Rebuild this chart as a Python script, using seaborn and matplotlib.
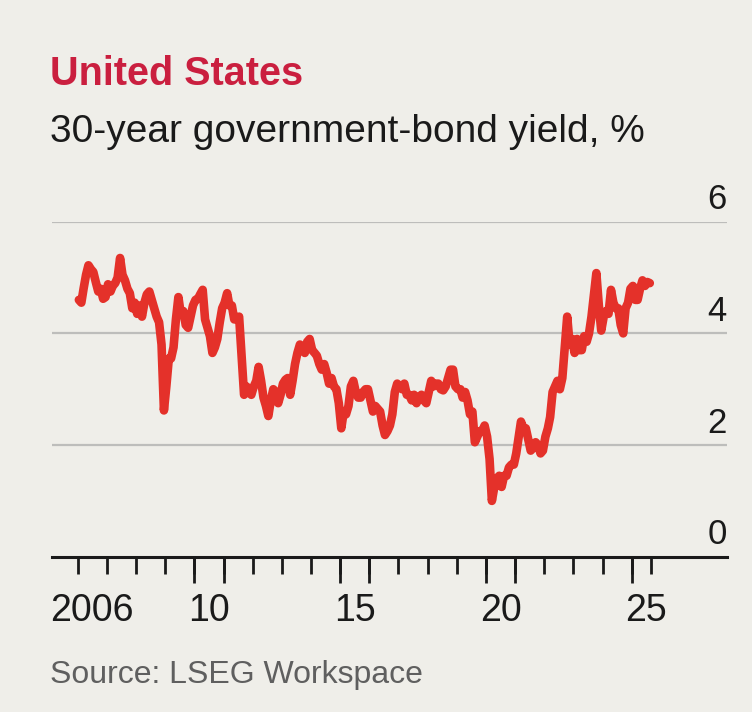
import pandas as pd
import numpy as np
import matplotlib
matplotlib.use('Agg')
import matplotlib.pyplot as plt
import seaborn as sns

# monthly 30-year US Treasury yield, %, Jan 2006 - Aug 2025
yields = [
    4.60, 4.55, 4.80, 5.05, 5.22, 5.15, 5.10, 4.92, 4.75, 4.80, 4.62, 4.65,  # 2006
    4.88, 4.75, 4.85, 4.90, 5.00, 5.35, 5.05, 4.95, 4.80, 4.72, 4.45, 4.55,  # 2007
    4.35, 4.50, 4.30, 4.55, 4.70, 4.75, 4.60, 4.45, 4.30, 4.20, 3.80, 2.62,  # 2008
    3.05, 3.55, 3.55, 3.75, 4.25, 4.65, 4.35, 4.40, 4.15, 4.10, 4.30, 4.50,  # 2009
    4.60, 4.62, 4.70, 4.78, 4.25, 4.10, 3.95, 3.65, 3.75, 3.90, 4.20, 4.45,  # 2010
    4.55, 4.72, 4.50, 4.50, 4.25, 4.25, 4.30, 3.60, 2.90, 3.05, 2.95, 2.90,  # 2011
    3.05, 3.15, 3.40, 3.15, 2.85, 2.70, 2.52, 2.80, 3.00, 2.95, 2.75, 2.90,  # 2012
    3.10, 3.17, 3.20, 2.90, 3.15, 3.45, 3.65, 3.80, 3.75, 3.65, 3.85, 3.90,  # 2013
    3.70, 3.65, 3.60, 3.45, 3.35, 3.45, 3.30, 3.10, 3.20, 3.05, 3.00, 2.75,  # 2014
    2.30, 2.60, 2.55, 2.70, 3.05, 3.15, 2.95, 2.85, 2.85, 2.95, 3.00, 3.00,  # 2015
    2.80, 2.60, 2.70, 2.65, 2.60, 2.35, 2.18, 2.25, 2.35, 2.55, 2.95, 3.10,  # 2016
    3.05, 3.00, 3.10, 2.90, 2.90, 2.80, 2.90, 2.75, 2.85, 2.90, 2.80, 2.75,  # 2017
    2.95, 3.15, 3.05, 3.10, 3.10, 3.00, 2.98, 3.05, 3.20, 3.35, 3.35, 3.05,  # 2018
    3.00, 3.00, 2.85, 2.95, 2.80, 2.55, 2.60, 2.05, 2.15, 2.25, 2.25, 2.35,  # 2019
    2.15, 1.75, 1.00, 1.25, 1.40, 1.45, 1.25, 1.45, 1.45, 1.60, 1.65, 1.65,  # 2020
    1.85, 2.15, 2.42, 2.30, 2.30, 2.10, 1.90, 1.95, 2.05, 2.00, 1.85, 1.90,  # 2021
    2.15, 2.30, 2.50, 2.95, 3.05, 3.15, 3.00, 3.20, 3.75, 4.30, 3.80, 3.90,  # 2022
    3.65, 3.90, 3.70, 3.70, 3.95, 3.85, 4.00, 4.30, 4.70, 5.08, 4.50, 4.05,  # 2023
    4.30, 4.40, 4.35, 4.78, 4.55, 4.45, 4.45, 4.15, 4.00, 4.45, 4.55, 4.80,  # 2024
    4.85, 4.60, 4.60, 4.80, 4.95, 4.85, 4.92, 4.90,                          # 2025
]
months = pd.date_range('2006-01-01', periods=len(yields), freq='MS') + pd.Timedelta(days=14)

tick_years = list(range(2006, 2026))
long_tick_years = [2010, 2011, 2015, 2016, 2020, 2021, 2025]
label_years = [2006, 2010, 2015, 2020, 2025]
label_text = ['2006', '10', '15', '20', '25']
y_ticks = [0, 2, 4, 6]

bg = '#EFEEE9'
red = '#E4312A'
ink = '#1a1a1a'

df = pd.DataFrame({'date': months, 'yield': yields})
df['x'] = df['date'].dt.year + (df['date'].dt.dayofyear - 0.5) / 365.25

sns.set_theme(style='white')
plt.rcParams['font.family'] = ['Liberation Sans', 'DejaVu Sans']

fig = plt.figure(figsize=(7.52, 7.12), dpi=100, facecolor=bg)
ax = fig.add_axes([0.06875, 0.2181, 0.8976, 0.4705])
ax.set_facecolor(bg)

for v in y_ticks[1:]:
    ax.axhline(v, color='#BDBDBB', lw=1.6, zorder=1)

sns.lineplot(data=df, x='x', y='yield', ax=ax, color=red, lw=6.2,
             solid_capstyle='round', solid_joinstyle='round', zorder=3)

ax.set_xlim(2005.108, 2028.257)
ax.set_ylim(0, 6)
for s in ['top', 'left', 'right']:
    ax.spines[s].set_visible(False)
ax.spines['bottom'].set_color(ink)
ax.spines['bottom'].set_linewidth(2.2)

# year labels sit in the middle of each year
ax.set_xticks([y + 0.5 for y in label_years])
ax.set_xticklabels(label_text)
ax.tick_params(axis='x', which='major', bottom=True, length=0, pad=26,
               labelsize=27, labelcolor=ink)
ax.set_xticks(tick_years + [df['x'].iloc[-1] + 0.04], minor=True)
ax.tick_params(axis='x', which='minor', bottom=True, length=12, width=2,
               color=ink, direction='out')

sec = ax.secondary_xaxis('bottom')
sec.set_xticks(long_tick_years)
sec.tick_params(bottom=True, length=19, width=2, color=ink, labelbottom=False)
sec.spines['bottom'].set_visible(False)

ax.set_yticks([])
ax.set_xlabel('')
ax.set_ylabel('')
for v in y_ticks:
    ax.annotate(str(v), xy=(1, v), xycoords=('axes fraction', 'data'),
                xytext=(0, 9), textcoords='offset points',
                ha='right', va='baseline', fontsize=25, color=ink,
                annotation_clip=False)

fig.text(0.066, 0.8806, 'United States', fontsize=28.5, fontweight='bold', color='#CA1F3F')
fig.text(0.066, 0.801, '30-year government-bond yield, %', fontsize=28, color=ink)
fig.text(0.066, 0.0403, 'Source: LSEG Workspace', fontsize=23, color='#5f5f5f')

plt.savefig('out.png', dpi=100, facecolor=bg)
